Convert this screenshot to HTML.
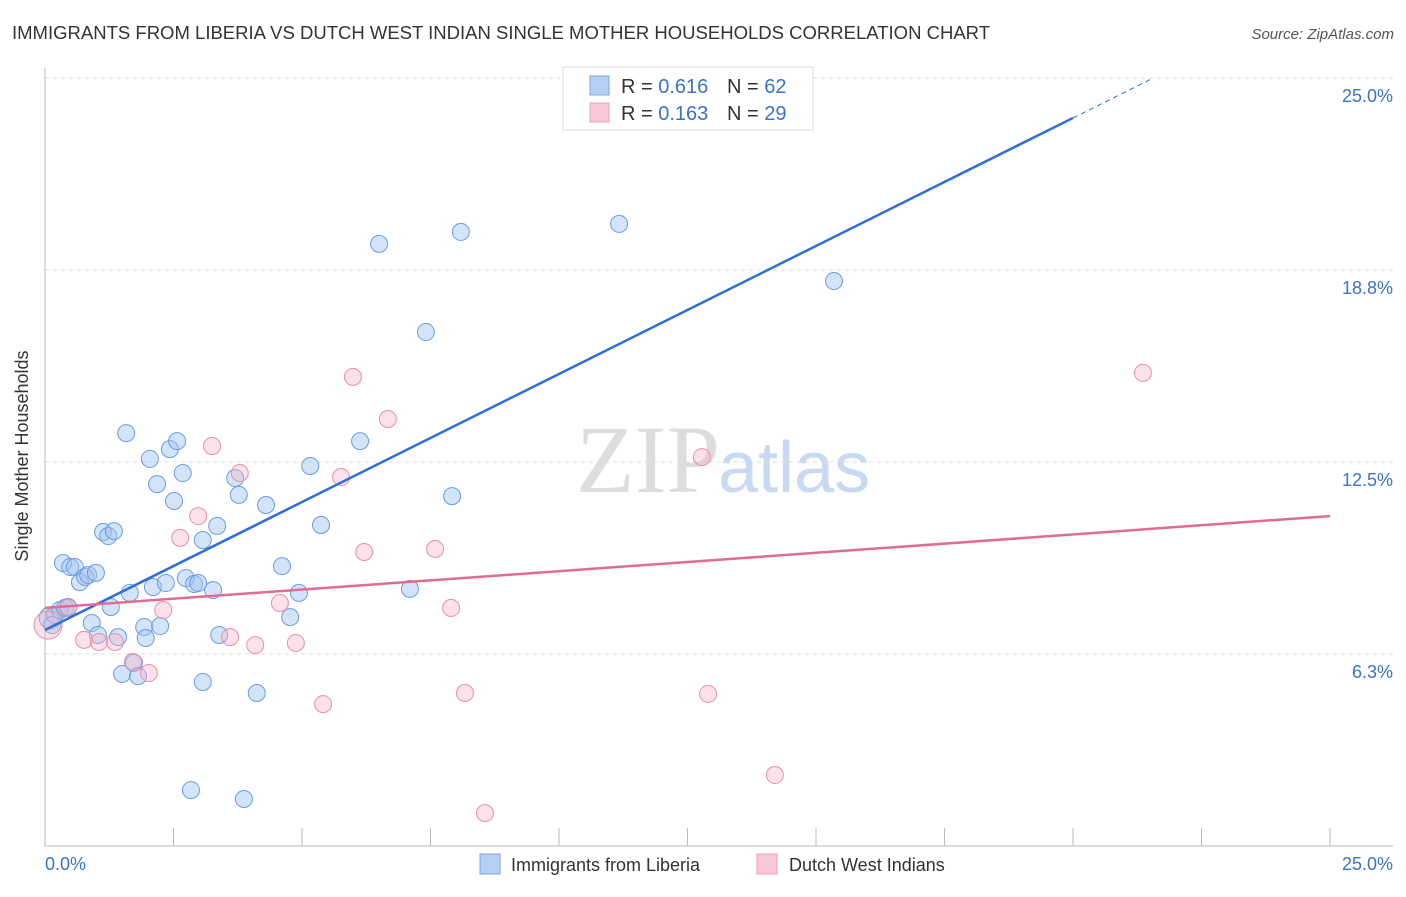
<!DOCTYPE html>
<html><head><meta charset="utf-8"><style>
body{margin:0;background:#fff;font-family:"Liberation Sans",sans-serif;}
</style></head><body>
<svg width="1406" height="892" xmlns="http://www.w3.org/2000/svg">
<text x="12" y="39" font-size="18" fill="#333" textLength="978" lengthAdjust="spacingAndGlyphs">IMMIGRANTS FROM LIBERIA VS DUTCH WEST INDIAN SINGLE MOTHER HOUSEHOLDS CORRELATION CHART</text>
<text x="1394" y="39" font-size="15" fill="#555" font-style="italic" text-anchor="end">Source: ZipAtlas.com</text>
<text x="720" y="492" font-size="96" fill="#ddd" text-anchor="end" font-family="Liberation Serif,serif">ZIP</text>
<text x="718" y="492" font-size="72" fill="#c8daf2">atlas</text>
<g id="grid"></g>
<g id="axes"></g>
<g id="pts"></g>
<g id="lines"></g>
<text x="28" y="456" font-size="18" fill="#333" text-anchor="middle" transform="rotate(-90 28 456)">Single Mother Households</text>
<text x="45" y="870" font-size="18" fill="#3b73c8">0.0%</text>
<text x="1393" y="870" font-size="18" fill="#3b73c8" text-anchor="end">25.0%</text>
<g>
<rect x="563" y="67" width="250" height="63" fill="#fff" stroke="#ddd"/>
<rect x="590" y="76" width="19" height="19" fill="#b5cff3" stroke="#7aa7e3"/>
<rect x="590" y="103" width="19" height="19" fill="#f8c8d6" stroke="#ee9fb7"/>
<text x="621" y="93" font-size="20" fill="#333">R = <tspan fill="#3b73c8">0.616</tspan></text>
<text x="727" y="93" font-size="20" fill="#333">N = <tspan fill="#3b73c8">62</tspan></text>
<text x="621" y="120" font-size="20" fill="#333">R = <tspan fill="#3b73c8">0.163</tspan></text>
<text x="727" y="120" font-size="20" fill="#333">N = <tspan fill="#3b73c8">29</tspan></text>
</g>
<g>
<rect x="480" y="854" width="20" height="20" fill="#b5cff3" stroke="#7aa7e3"/>
<text x="511" y="871" font-size="18" fill="#333">Immigrants from Liberia</text>
<rect x="757" y="854" width="20" height="20" fill="#f8c8d6" stroke="#ee9fb7"/>
<text x="789" y="871" font-size="18" fill="#333">Dutch West Indians</text>
</g>
</svg>
<script>
const yTicks=[6.25,12.5,18.75,25];
const yTickLabels=["6.3%","12.5%","18.8%","25.0%"];
const blueX=[0.10,0.19,0.29,0.39,0.45,0.14,0.35,0.49,0.58,0.68,0.78,0.84,0.99,0.91,1.03,1.13,1.23,1.34,1.28,1.42,1.50,1.58,1.65,1.73,1.81,1.93,1.96,2.04,2.10,2.18,2.24,2.35,2.43,2.51,2.57,2.68,2.74,2.84,2.90,2.98,3.07,3.07,3.27,3.35,3.39,3.70,3.77,3.87,4.12,4.30,4.61,4.77,4.94,5.16,5.37,6.13,6.50,7.10,7.41,7.92,8.09,11.17,15.35];
const blueY=[7.42,7.52,7.68,7.75,7.78,7.19,9.21,9.08,9.08,8.59,8.76,8.82,8.89,7.26,6.87,10.22,10.09,10.25,7.78,6.80,5.60,13.44,8.24,5.96,5.53,7.13,6.77,12.60,8.43,11.78,7.16,8.56,12.92,11.23,13.18,12.14,8.72,1.82,8.53,8.56,9.96,5.34,8.33,10.42,6.87,11.98,11.43,1.53,4.98,11.10,9.11,7.45,8.24,12.37,10.45,13.18,19.60,8.37,16.73,11.39,19.99,20.25,18.39];
const pinkX=[0.06,0.45,0.76,1.05,1.36,1.71,2.02,2.30,2.63,2.98,3.25,3.60,3.79,4.09,4.57,4.88,5.41,5.76,5.99,6.21,6.67,7.59,7.90,8.17,8.56,12.78,12.90,14.20,21.36];
const pinkY=[7.19,7.75,6.71,6.64,6.64,5.99,5.63,7.68,10.03,10.74,13.02,6.80,12.14,6.54,7.91,6.61,4.62,12.01,15.27,9.57,13.90,9.67,7.75,4.98,1.07,12.66,4.95,2.31,15.40];
const blueTrend=[7.03,0.8335];
const pinkTrend=[7.75,0.1196];
const NS="http://www.w3.org/2000/svg";
const X=v=>45+v/25*1285;
const Y=v=>846-v*30.72;
function mk(t,a,p){const e=document.createElementNS(NS,t);for(const k in a)e.setAttribute(k,a[k]);p.appendChild(e);return e;}
const grid=document.getElementById('grid'),axes=document.getElementById('axes'),pts=document.getElementById('pts'),lines=document.getElementById('lines');
yTicks.forEach((t,i)=>{
 const l=mk('line',{x1:45,x2:1393,y1:Y(t),y2:Y(t),stroke:'#ddd','stroke-dasharray':'4,4'},grid);
 
 
 const tx=mk('text',{x:1393,y:Y(t)+24,'font-size':18,fill:'#3b73c8','text-anchor':'end'},grid);
 tx.textContent=yTickLabels[i];
 
 
});
const ax=mk('path',{d:'M45,68V846H1393',stroke:'#bbb',fill:'none'},axes);


for(let i=0;i<=10;i++){const t=mk('line',{x1:X(i*2.5),x2:X(i*2.5),y1:828,y2:846,stroke:'#bbb'},axes);
 
 }
function dots(xs,ys,fill,stroke,name){xs.forEach((x,i)=>{const r=(i===0&&name==='pink-point')?14:(i===0?11:8.5);
 const c=mk('circle',{cx:X(x),cy:Y(ys[i]),r:r,fill:fill,stroke:stroke,'stroke-width':1},pts);
 
 });}
dots(blueX,blueY,'rgba(160,196,240,0.45)','#6a9de0','blue-point');
dots(pinkX,pinkY,'rgba(245,180,200,0.4)','#e890aa','pink-point');
const bl=mk('line',{x1:X(0),y1:Y(blueTrend[0]),x2:X(20),y2:Y(blueTrend[0]+20*blueTrend[1]),stroke:'#2e6fd6','stroke-width':2.5},lines);


const bd=mk('line',{x1:X(20),y1:Y(blueTrend[0]+20*blueTrend[1]),x2:X(21.5),y2:Y(blueTrend[0]+21.5*blueTrend[1]),stroke:'#2e6fd6','stroke-width':1,'stroke-dasharray':'5,4'},lines);


const pl=mk('line',{x1:X(0),y1:Y(pinkTrend[0]),x2:X(25),y2:Y(pinkTrend[0]+25*pinkTrend[1]),stroke:'#e36a94','stroke-width':2.5},lines);


</script>
</body></html>
